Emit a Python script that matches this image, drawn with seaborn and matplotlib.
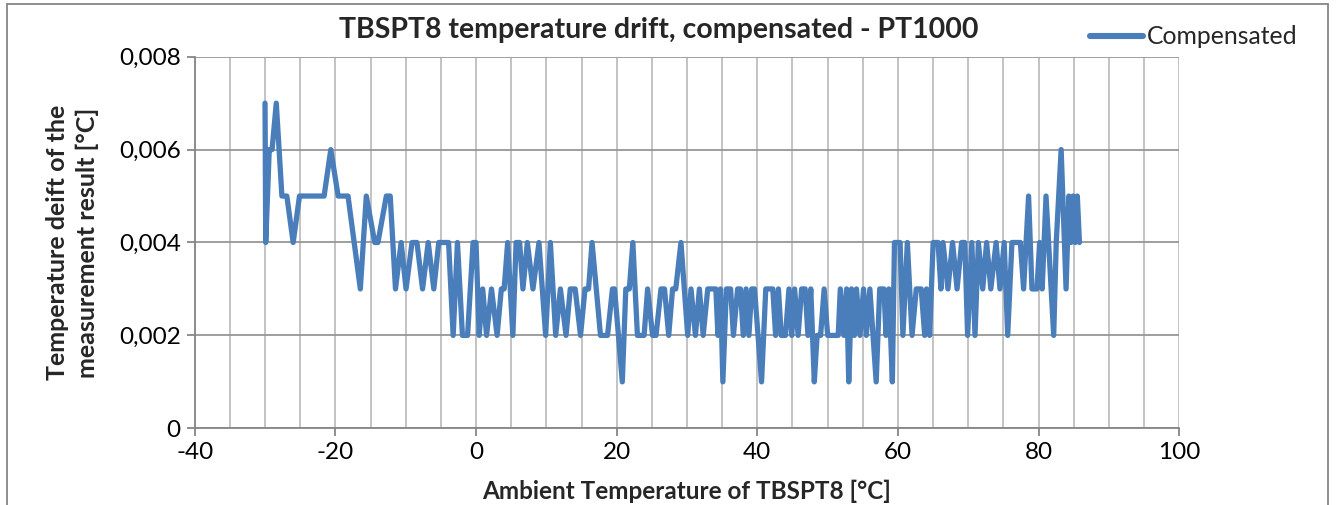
import matplotlib
matplotlib.use("Agg")
import matplotlib.pyplot as plt
from matplotlib.ticker import FuncFormatter, MultipleLocator
from matplotlib.lines import Line2D
import seaborn as sns
import pandas as pd

# ---- data ----
ambient_temp = [
    -30.0, -29.9, -29.4, -29.0, -28.4, -27.6, -26.9, -26.0, -25.1, -22.0,
    -21.6, -20.65, -19.6, -18.2, -16.45, -15.6, -14.4, -13.95, -12.75, -12.2,
    -11.45, -10.65, -9.95, -9.1, -8.4, -7.6, -6.8, -6.0, -5.3, -3.9,
    -3.25, -2.64, -1.93, -1.2, -0.42, 0.0, 0.45, 0.95, 1.5, 2.2,
    3.0, 3.6, 4.0, 4.5, 5.24, 5.7, 6.2, 6.67, 7.3, 8.1,
    8.95, 9.9, 10.57, 11.33, 12.0, 12.8, 13.4, 14.1, 14.86, 15.5,
    16.0, 16.5, 17.7, 18.7, 19.4, 19.7, 20.8, 21.3, 21.8, 22.3,
    22.95, 23.9, 24.4, 25.1, 25.6, 26.3, 26.8, 27.4, 27.95, 28.4,
    29.14, 30.1, 30.57, 31.2, 31.76, 32.3, 32.95, 33.5, 34.1, 34.4,
    34.76, 35.1, 35.6, 36.2, 36.6, 37.2, 37.6, 38.0, 38.4, 38.8,
    39.2, 39.6, 40.6, 41.2, 42.2, 42.6, 43.0, 43.4, 44.0, 44.5,
    44.9, 45.3, 45.8, 46.3, 46.8, 47.2, 47.6, 48.1, 48.5, 49.0,
    49.5, 50.0, 51.5, 51.8, 52.3, 52.7, 53.0, 53.4, 53.8, 54.1,
    54.6, 55.1, 55.5, 56.0, 56.9, 57.4, 58.0, 58.3, 58.7, 59.2,
    59.5, 60.3, 60.7, 61.33, 62.0, 62.6, 63.3, 63.8, 64.05, 64.5,
    65.0, 65.7, 66.1, 66.4, 67.1, 67.76, 68.4, 69.05, 69.5, 69.9,
    70.5, 70.95, 71.43, 72.05, 72.6, 73.2, 73.95, 74.5, 75.1, 75.6,
    76.2, 77.4, 77.86, 78.57, 79.05, 79.76, 80.14, 80.5, 81.05, 82.14,
    82.5, 83.2, 83.9, 84.3, 84.6, 84.9, 85.2, 85.5, 85.8,
]
drift_compensated = [
    0.007, 0.004, 0.006, 0.006, 0.007, 0.005, 0.005, 0.004, 0.005, 0.005,
    0.005, 0.006, 0.005, 0.005, 0.003, 0.005, 0.004, 0.004, 0.005, 0.005,
    0.003, 0.004, 0.003, 0.004, 0.004, 0.003, 0.004, 0.003, 0.004, 0.004,
    0.002, 0.004, 0.002, 0.002, 0.004, 0.004, 0.002, 0.003, 0.002, 0.003,
    0.002, 0.003, 0.003, 0.004, 0.002, 0.004, 0.004, 0.003, 0.004, 0.003,
    0.004, 0.002, 0.004, 0.002, 0.003, 0.002, 0.003, 0.003, 0.002, 0.003,
    0.003, 0.004, 0.002, 0.002, 0.003, 0.003, 0.001, 0.003, 0.003, 0.004,
    0.002, 0.002, 0.003, 0.002, 0.002, 0.003, 0.003, 0.002, 0.003, 0.003,
    0.004, 0.002, 0.003, 0.002, 0.003, 0.002, 0.003, 0.003, 0.003, 0.002,
    0.003, 0.001, 0.003, 0.003, 0.002, 0.003, 0.003, 0.002, 0.003, 0.002,
    0.003, 0.003, 0.001, 0.003, 0.003, 0.002, 0.003, 0.002, 0.002, 0.003,
    0.002, 0.003, 0.002, 0.003, 0.003, 0.002, 0.003, 0.001, 0.002, 0.002,
    0.003, 0.002, 0.002, 0.003, 0.002, 0.003, 0.001, 0.003, 0.002, 0.003,
    0.002, 0.003, 0.002, 0.003, 0.001, 0.003, 0.003, 0.002, 0.003, 0.001,
    0.004, 0.004, 0.002, 0.004, 0.002, 0.003, 0.003, 0.002, 0.003, 0.002,
    0.004, 0.004, 0.003, 0.004, 0.003, 0.004, 0.003, 0.004, 0.004, 0.002,
    0.004, 0.002, 0.004, 0.003, 0.004, 0.003, 0.004, 0.003, 0.004, 0.002,
    0.004, 0.004, 0.003, 0.005, 0.003, 0.003, 0.004, 0.003, 0.005, 0.002,
    0.004, 0.006, 0.003, 0.005, 0.004, 0.005, 0.004, 0.005, 0.004,
]
series_name = "Compensated"
title_text = "TBSPT8 temperature drift, compensated - PT1000"
x_label = "Ambient Temperature of TBSPT8 [°C]"
y_label = "Temperature deift of the\nmeasurement result [°C]"
x_ticks = [-40, -20, 0, 20, 40, 60, 80, 100]
y_ticks = [0, 0.002, 0.004, 0.006, 0.008]

df = pd.DataFrame({"x": ambient_temp, "y": drift_compensated, "series": series_name})

sns.set_theme(style="white")
plt.rcParams["font.family"] = ["Lato", "DejaVu Sans"]

W, H = 1336, 505
fig = plt.figure(figsize=(W / 100, H / 100), dpi=100)
ax = fig.add_axes([194.7 / W, 1 - 428.3 / H, (1179.3 - 194.7) / W, (428.3 - 56.7) / H])

line_color = "#4A7EBB"
sns.lineplot(data=df, x="x", y="y", hue="series", palette=[line_color], sort=False,
             linewidth=3.8, ax=ax, legend=False, estimator=None)
for ln in ax.get_lines():
    ln.set_solid_joinstyle("round")
    ln.set_solid_capstyle("round")

ax.set_xlim(-40, 100)
ax.set_ylim(0, 0.008)
ax.set_xticks(x_ticks)
ax.xaxis.set_minor_locator(MultipleLocator(5))
ax.set_yticks(y_ticks)
ax.yaxis.set_major_formatter(FuncFormatter(lambda v, p: "0" if abs(v) < 1e-12 else f"{v:.3f}".replace(".", ",")))
ax.xaxis.set_major_formatter(FuncFormatter(lambda v, p: f"{int(round(v))}"))

ax.grid(False)
ax.grid(which="major", axis="y", color="#969696", linewidth=1.3)
ax.grid(which="minor", axis="x", color="#BEBEBE", linewidth=1.3)
ax.grid(which="major", axis="x", color="#BEBEBE", linewidth=1.3)
ax.set_axisbelow(True)

for s in ["top", "right"]:
    ax.spines[s].set_visible(False)
for s in ["left", "bottom"]:
    ax.spines[s].set_color("#868686")
    ax.spines[s].set_linewidth(1.3)

ax.tick_params(axis="both", which="major", direction="out", length=6, width=1.3,
               color="#868686", labelsize=17.5, labelcolor="black", pad=4,
               left=True, bottom=True)
ax.tick_params(axis="x", which="minor", length=0)

ax.set_xlabel(x_label, fontsize=17.5, fontweight="bold", labelpad=12)
ax.set_ylabel(y_label, fontsize=18, fontweight="bold", labelpad=14, linespacing=1.35)

fig.text(659 / W, 1 - 30 / H, title_text, ha="center", va="center",
         fontsize=20.5, fontweight="bold")

handle = Line2D([0], [0], color=line_color, linewidth=4.4)
fig.legend([handle], [series_name], loc="center left",
           bbox_to_anchor=(1090 / W, 1 - 37 / H), frameon=False, fontsize=17.8,
           handlelength=2.15, handletextpad=0.15, borderpad=0, borderaxespad=0)

# outer chart frame
frame_c = "#868686"
fig.add_artist(Line2D([7 / W, 7 / W], [0, 1 - 4 / H], color=frame_c, linewidth=1.3, transform=fig.transFigure))
fig.add_artist(Line2D([7 / W, 1328 / W], [1 - 4 / H, 1 - 4 / H], color=frame_c, linewidth=1.3, transform=fig.transFigure))
fig.add_artist(Line2D([1328 / W, 1328 / W], [0, 1 - 4 / H], color=frame_c, linewidth=1.3, transform=fig.transFigure))

fig.savefig("out.png", dpi=100)
